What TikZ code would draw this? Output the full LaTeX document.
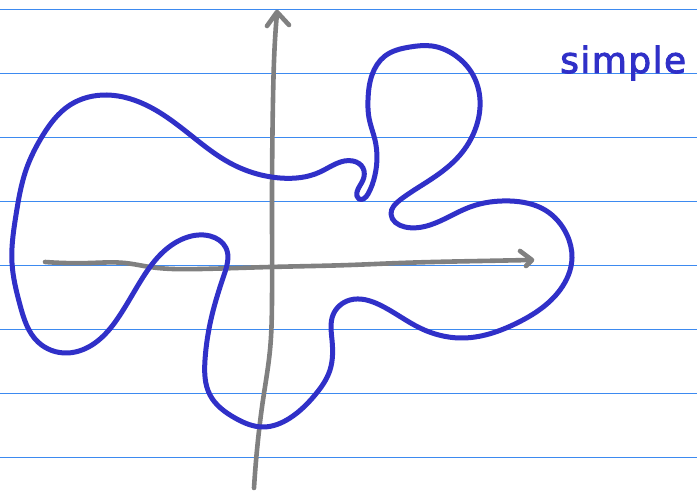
\documentclass[tikz,border=0pt]{standalone}
\usepackage{fontspec}
\usetikzlibrary{hobby}
\newfontfamily\handfont[FakeBold=2.5,LetterSpace=4]{DejaVu Sans}
\definecolor{paperline}{HTML}{3D8AF0}
\definecolor{ink}{HTML}{3030C8}
\definecolor{axisgray}{HTML}{808080}
\tikzset{
  ruled/.style={paperline, line width=1.8pt},
  axisline/.style={axisgray, line width=4.6pt, line cap=round, line join=round},
  curveline/.style={ink, line width=5pt, line join=round},
}
\begin{document}
\begin{tikzpicture}[x=1pt,y=-1pt]
\useasboundingbox (0,0) rectangle (697,494);
\fill[white] (0,0) rectangle (697,494);
\foreach \yy in {9.5,73.5,137.5,201.5,265.5,329.5,393.5,457.5}
  \draw[ruled] (0,\yy) -- (697,\yy);
% axes
\draw[axisline] plot[hobby] coordinates {(45,262) (90,263) (125,263) (150,267) (200,269) (270,267) (350,265) (400,263) (480,261) (531,260)};
\draw[axisline] (520,251) -- (532,260) -- (526,266);
\draw[axisline] plot[hobby] coordinates {(254,488) (258,440) (263,400) (270,350) (272,300) (272,200) (273,100) (275,40) (277,13)};
\draw[axisline] (267,26) -- (277,12) -- (289,25);
% blue curve
\draw[curveline] plot[closed hobby] coordinates {
(107,95) (150,107) (193,137) (230,163) (280,178) (320,172) (353,161) (363,168) (363,180) (357,192) (359,199) (368,194) (375,175) (375,140) (369,118) (368,100) (372,75) (385,56) (410,47) (432,46) (456,56) (473,75) (480,100) (475,130) (460,155) (430,180) (400,200) (391,214) (405,227) (430,225) (470,207) (510,201) (545,210) (567,235) (572,258) (560,290) (517,323) (460,338) (420,328) (380,305) (350,300) (333,315) (332,340) (330,370) (315,395) (290,418) (263,427) (235,418) (210,395) (205,360) (212,315) (224,275) (226,248) (210,236) (185,238) (160,255) (140,282) (120,315) (95,343) (67,353) (38,342) (20,305) (12,263) (16,215) (26,170) (43,135) (70,105)};
% label
\node[anchor=base west, inner sep=0pt, text=ink, font=\handfont\fontsize{36}{40}\selectfont] (lbl) at (560,73) {simple};
\end{tikzpicture}
\end{document}
